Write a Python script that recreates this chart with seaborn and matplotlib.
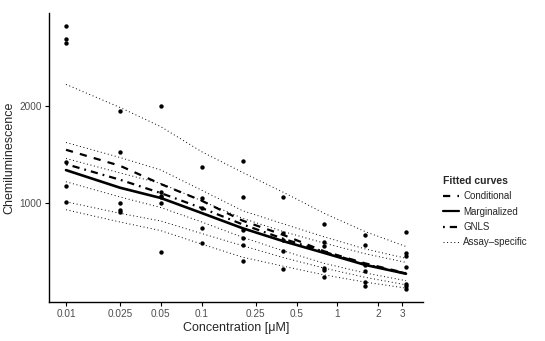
import numpy as np
import pandas as pd
import matplotlib
matplotlib.use("Agg")
import matplotlib.pyplot as plt
from matplotlib.lines import Line2D
import seaborn as sns

# ---------------- data ----------------
conc = [0.01, 0.025, 0.05, 0.1, 0.2, 0.4, 0.8, 1.6, 3.2]

obs_0_01 = [2835, 2705, 2659, 1425, 1176, 1004]
obs_0_025 = [1954, 1523, 997, 927, 907]
obs_0_05 = [2000, 1114, 1070, 1055, 997, 486]
obs_0_1 = [1375, 1045, 945, 737, 582]
obs_0_2 = [1432, 1064, 720, 635, 563, 399]
obs_0_4 = [1064, 690, 613, 496, 312]
obs_0_8 = [779, 589, 555, 320, 305, 226]
obs_1_6 = [668, 560, 350, 295, 180, 138]
obs_3_2 = [697, 478, 442, 330, 157, 130, 105]

conditional = [1550, 1384, 1194, 1021, 814, 665, 495, 370, 268]
marginalized = [1339, 1156, 1049, 893, 735, 600, 478, 354, 262]
gnls = [1401, 1239, 1100, 945, 775, 625, 490, 360, 265]

assay_1 = [2230, 1990, 1790, 1530, 1315, 1108, 890, 700, 545]
assay_2 = [1626, 1470, 1340, 1130, 917, 780, 645, 520, 423]
assay_3 = [1460, 1310, 1200, 1020, 838, 700, 580, 470, 380]
assay_4 = [1218, 1060, 950, 800, 641, 500, 370, 270, 190]
assay_5 = [1010, 890, 810, 680, 554, 430, 320, 225, 147]
assay_6 = [927, 800, 710, 570, 434, 340, 250, 175, 113]

xtick_vals = [0.01, 0.025, 0.05, 0.1, 0.25, 0.5, 1, 2, 3]
xtick_labels = ["0.01", "0.025", "0.05", "0.1", "0.25", "0.5", "1", "2", "3"]
ytick_vals = [1000, 2000]

# ---------------- build tables ----------------
obs_lists = [obs_0_01, obs_0_025, obs_0_05, obs_0_1, obs_0_2,
             obs_0_4, obs_0_8, obs_1_6, obs_3_2]
pts = pd.DataFrame([(c, v) for c, vals in zip(conc, obs_lists) for v in vals],
                   columns=["conc", "y"])

assays = [assay_1, assay_2, assay_3, assay_4, assay_5, assay_6]

# ---------------- styling ----------------
sns.set_theme(style="ticks")
plt.rcParams["font.family"] = ["Liberation Sans", "DejaVu Sans"]
plt.rcParams["lines.scale_dashes"] = False

fig = plt.figure(figsize=(5.45, 3.41), dpi=100)
ax = fig.add_axes([49 / 545, 39 / 341, 374 / 545, 289 / 341])

dotted = (0, (0.7, 1.9))
dashed = (0, (5.2, 5.2))
dotdash = (0, (1.3, 3.6, 5.2, 3.6))

for a in assays:
    sns.lineplot(x=conc, y=a, ax=ax, color="black", lw=0.7,
                 linestyle=dotted, estimator=None, sort=False)
sns.lineplot(x=conc, y=gnls, ax=ax, color="black", lw=1.6,
             linestyle=dotdash, estimator=None, sort=False)
sns.lineplot(x=conc, y=marginalized, ax=ax, color="black", lw=1.9,
             linestyle="-", estimator=None, sort=False)
sns.lineplot(x=conc, y=conditional, ax=ax, color="black", lw=1.6,
             linestyle=dashed, estimator=None, sort=False)

sns.scatterplot(data=pts, x="conc", y="y", ax=ax, color="black", s=10,
                linewidth=0, zorder=5)

ax.set_xscale("log")
lo, hi = np.log10(min(conc)), np.log10(max(conc))
pad = 0.05 * (hi - lo)
ax.set_xlim(10 ** (lo - pad), 10 ** (hi + pad))
allv = pts["y"]
ymin, ymax = allv.min(), allv.max()
ypad = 0.05 * (ymax - ymin)
ax.set_ylim(ymin - ypad, ymax + ypad)

ax.set_xticks(xtick_vals)
ax.set_xticklabels(xtick_labels)
ax.xaxis.set_minor_locator(matplotlib.ticker.NullLocator())
ax.set_yticks(ytick_vals)
ax.set_yticklabels([str(v) for v in ytick_vals])

ax.tick_params(axis="both", length=3, width=0.8, color="black",
               labelsize=7.2, labelcolor="#4D4D4D", pad=2)
for side in ["left", "bottom"]:
    ax.spines[side].set_linewidth(1.0)
    ax.spines[side].set_color("black")
sns.despine(ax=ax)

ax.set_xlabel("Concentration [μM]", fontsize=9, labelpad=2)
ax.set_ylabel("Chemiluminescence", fontsize=9, labelpad=3)

handles = [
    Line2D([], [], color="black", lw=1.6, linestyle=dashed),
    Line2D([], [], color="black", lw=1.6, linestyle="-"),
    Line2D([], [], color="black", lw=1.6, linestyle=dotdash),
    Line2D([], [], color="black", lw=0.7, linestyle=dotted),
]
labels = ["Conditional", "Marginalized", "GNLS", "Assay\u2013specific"]
leg = fig.legend(handles, labels, loc="upper left",
                 bbox_to_anchor=(442 / 545, 1 - 175 / 341),
                 frameon=False, fontsize=7, title="Fitted curves",
                 title_fontproperties={"weight": "bold", "size": 7.5},
                 handlelength=1.6, handletextpad=0.5, labelspacing=0.55,
                 borderaxespad=0, borderpad=0.1)
leg._legend_box.align = "left"

fig.savefig("out.png", dpi=100)
